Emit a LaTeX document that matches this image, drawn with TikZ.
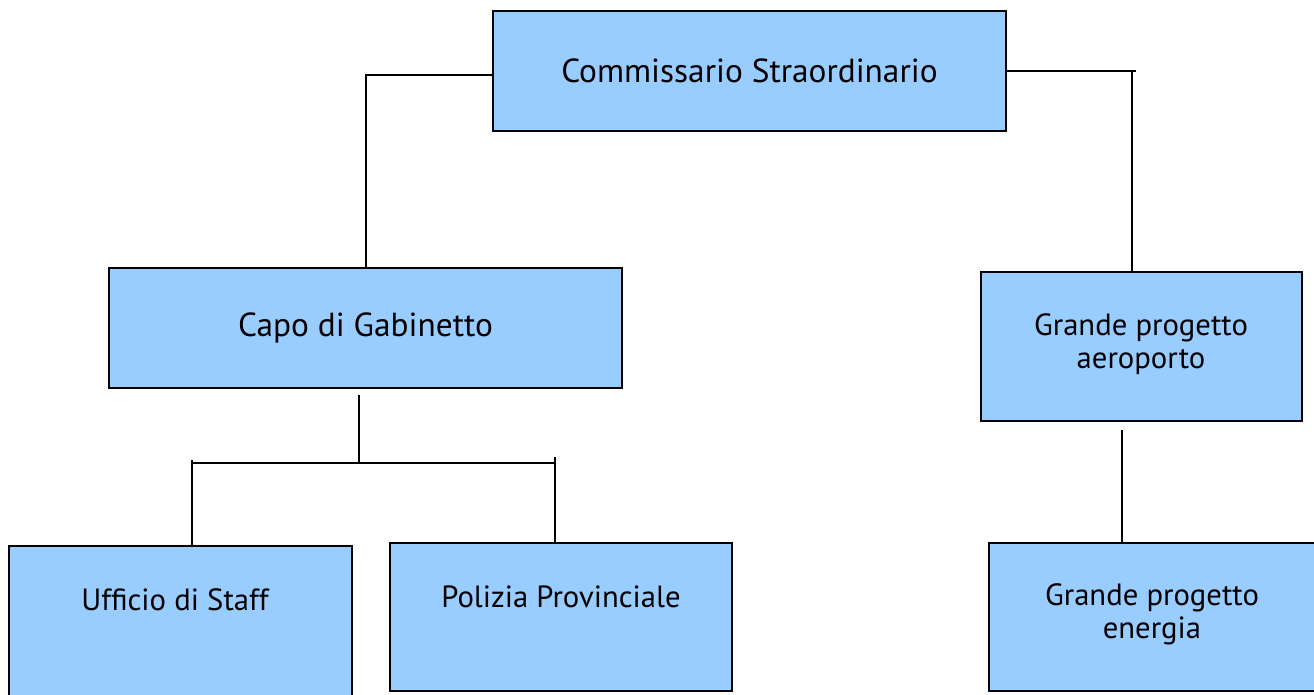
\documentclass[tikz,border=0pt]{standalone}
\usepackage{fontspec}
\setmainfont{PT Sans}
\usetikzlibrary{calc}
\definecolor{boxblue}{HTML}{99CCFF}
\begin{document}
\begin{tikzpicture}[x=0.75pt,y=-0.75pt,
  orgbox/.style={draw=black,line width=2.2pt,fill=boxblue,inner sep=0pt,outer sep=0pt,anchor=north west},
  boxtext/.style={font=\fontsize{25}{30}\selectfont,align=center,inner sep=0pt},
  smalltext/.style={font=\fontsize{23}{25}\selectfont,align=center,inner sep=0pt},
  link/.style={draw=black,line width=1.4pt}]
\useasboundingbox (0,0) rectangle (1314,694);
% boxes
\node[orgbox,minimum width=0.75pt*513,minimum height=0.75pt*120] (cs) at (493,11) {};
\node[orgbox,minimum width=0.75pt*513,minimum height=0.75pt*120] (cg) at (109,268) {};
\node[orgbox,minimum width=0.75pt*321,minimum height=0.75pt*149] (ga) at (981,272) {};
\node[orgbox,minimum width=0.75pt*343,minimum height=0.75pt*160] (us) at (9,546) {};
\node[orgbox,minimum width=0.75pt*342,minimum height=0.75pt*148] (pp) at (390,543) {};
\node[orgbox,minimum width=0.75pt*330,minimum height=0.75pt*148] (ge) at (989,543) {};
% texts
\node[boxtext] (tcs) at (cs.center) {Commissario Straordinario};
\node[boxtext] (tcg) at (cg.center) {Capo di Gabinetto};
\node[smalltext] (tga) at (1141,344) {Grande progetto\\aeroporto};
\node[smalltext] (tus) at (175,600) {Ufficio di Staff};
\node[smalltext] (tpp) at (561,597) {Polizia Provinciale};
\node[smalltext] (tge) at (1152,614) {Grande progetto\\energia};
% connector points
\coordinate (lcorner) at (366,75);
\coordinate (rend) at ($(cs.east)+(130,0)$);
\coordinate (rcorner) at ($(cs.east)+(126,0)$);
\coordinate (cgtop) at (359,395);
\coordinate (cgmid) at (359,463);
\coordinate (busl) at (191,463);
\coordinate (busr) at (555,463);
\coordinate (usl) at (192,460);
\coordinate (ppr) at (555,457);
\coordinate (gatop) at (1122,430);
% connectors
\draw[link] (cs.west |- lcorner) -- (lcorner) -- (lcorner |- cg.north);
\draw[link] (cs.east) -- (rend);
\draw[link] (rcorner) -- (rcorner |- ga.north);
\draw[link] (cgtop) -- (cgmid);
\draw[link] (busl) -- (busr);
\draw[link] (usl) -- (usl |- us.north);
\draw[link] (ppr) -- (ppr |- pp.north);
\draw[link] (gatop) -- (gatop |- ge.north);
\end{tikzpicture}
\end{document}
